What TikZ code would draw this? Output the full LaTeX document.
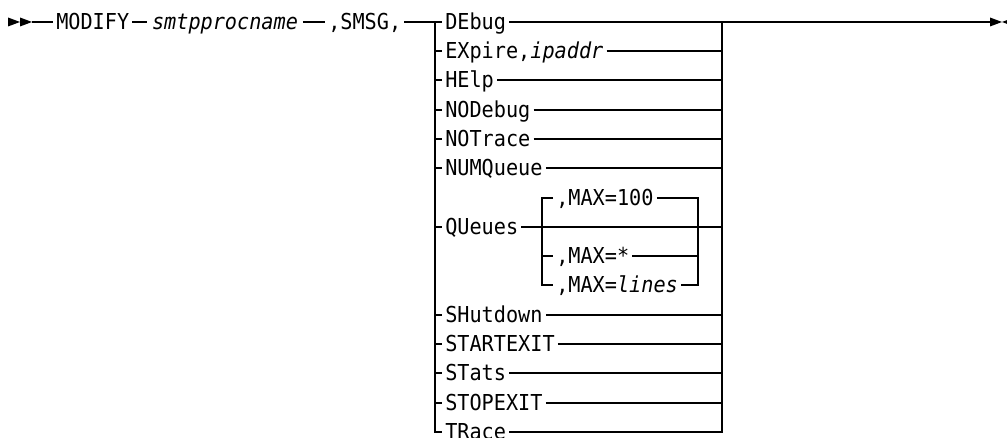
\documentclass[tikz,border=0pt]{standalone}
\usepackage{fontspec}
\setmainfont[FakeStretch=0.92]{DejaVu Sans Mono}
\usetikzlibrary{positioning}

\begin{document}
\begin{tikzpicture}[x=0.02cm, y=-0.02cm, line width=0.7pt,
    kw/.style={inner xsep=1.5pt, inner ysep=0pt, anchor=west, text height=9.1pt, text depth=0pt, font=\fontsize{12.5}{14}\selectfont}]
        \useasboundingbox (0,0) rectangle (1007,438);

        % Start mark
        \fill (8,17.5) -- (20,22) -- (8,26.5) -- cycle;
        \fill (20,17.5) -- (32,22) -- (20,26.5) -- cycle;
        \coordinate (start) at (32,22);

        % Command
        \node[kw] (modify) at (53,22) {MODIFY};
        \node[kw, inner xsep=2.5pt] (proc) at (147,22) {\textit{smtpprocname}};
        \node[kw] (smsg) at (325,22) {,SMSG,};
        \draw (start) -- (modify);
        \draw (modify) -- (proc);
        \draw (proc) -- (smsg);

        % Choice rails
        \coordinate (ltop) at (435,22);
        \coordinate (lbot) at (435,432);
        \coordinate (rtop) at (722,22);
        \coordinate (rbot) at (722,432);
        \coordinate (stop) at (990,22);

        % Choices
        \node[kw] (debug) at (442,22) {DEbug};
        \node[kw] (expire) at (442,51) {EXpire,\textit{ipaddr}};
        \node[kw] (help) at (442,80) {HElp};
        \node[kw] (nodebug) at (442,110) {NODebug};
        \node[kw] (notrace) at (442,139) {NOTrace};
        \node[kw] (numqueue) at (442,168) {NUMQueue};
        \node[kw] (queues) at (442,227) {QUeues};
        \node[kw] (shutdown) at (442,315) {SHutdown};
        \node[kw] (startexit) at (442,344) {STARTEXIT};
        \node[kw] (stats) at (442,373) {STats};
        \node[kw] (stopexit) at (442,403) {STOPEXIT};
        \node[kw] (trace) at (442,432) {TRace};

        \draw (smsg) -- (ltop) -- (lbot) -- (trace);
        \draw (trace) -- (rbot) -- (rtop) -- (stop);
        \draw (ltop) -- (debug) -- (rtop);
        \draw (expire -| ltop) -- (expire) -- (expire -| rtop);
        \draw (help -| ltop) -- (help) -- (help -| rtop);
        \draw (nodebug -| ltop) -- (nodebug) -- (nodebug -| rtop);
        \draw (notrace -| ltop) -- (notrace) -- (notrace -| rtop);
        \draw (numqueue -| ltop) -- (numqueue) -- (numqueue -| rtop);
        \draw (queues -| ltop) -- (queues) -- (queues -| rtop);
        \draw (shutdown -| ltop) -- (shutdown) -- (shutdown -| rtop);
        \draw (startexit -| ltop) -- (startexit) -- (startexit -| rtop);
        \draw (stats -| ltop) -- (stats) -- (stats -| rtop);
        \draw (stopexit -| ltop) -- (stopexit) -- (stopexit -| rtop);

        % QUeues options
        \coordinate (qtop) at (542,198);
        \coordinate (qbot) at (542,285);
        \coordinate (qrtop) at (698,198);
        \coordinate (qrbot) at (698,285);
        \node[kw] (max100) at (553,198) {,MAX=100};
        \node[kw] (maxall) at (553,256) {,MAX=*};
        \node[kw] (maxlines) at (553,285) {,MAX=\textit{lines}};
        \draw (max100) -- (qtop) -- (qbot) -- (maxlines);
        \draw (max100) -- (qrtop) -- (qrbot) -- (maxlines);
        \draw (maxall -| qtop) -- (maxall) -- (maxall -| qrtop);

        % End mark
        \fill (990,17.5) -- (1002,22) -- (990,26.5) -- cycle;
        \fill (1014,17.5) -- (1002,22) -- (1014,26.5) -- cycle;
    \end{tikzpicture}
\end{document}
